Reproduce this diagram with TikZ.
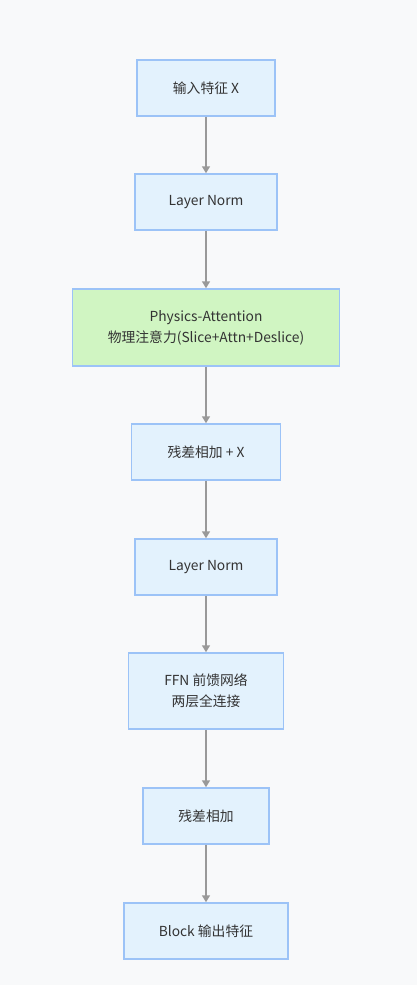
\documentclass[tikz,border=0pt]{standalone}
\usepackage{fontspec}
\setmainfont{Noto Sans CJK SC}
\usepackage{tikz}
\usetikzlibrary{arrows.meta}
\definecolor{bgcol}{HTML}{F8F9FA}
\definecolor{boxfill}{HTML}{E3F2FD}
\definecolor{boxline}{HTML}{9CC3F7}
\definecolor{attnfill}{HTML}{D0F5C2}
\definecolor{arrowcol}{HTML}{999999}
\tikzset{
	stagebox/.style={draw=boxline, line width=1.5pt, fill=boxfill, inner sep=0pt, align=center, font=\fontsize{13.8}{21}\selectfont, text=black!80},
	flowarrow/.style={draw=arrowcol, line width=1.5pt, -{Triangle[length=7pt,width=8pt]}}
}

\begin{document}
\begin{tikzpicture}[x=1pt, y=-1pt]
		%%%%% START %%%%%
		
		\fill[bgcol] (0, 0) rectangle (417, 985);
		\useasboundingbox (0, 0) rectangle (417, 985);
		
		\node[stagebox, minimum width=138pt, minimum height=56pt] (input) at (206, 88) {输入特征 X};
		\node[stagebox, minimum width=142pt, minimum height=56pt] (norm1) at (206, 202) {Layer Norm};
		\node[stagebox, fill=attnfill, minimum width=267pt, minimum height=77pt] (attn) at (206, 327.5) {Physics-Attention\\物理注意力(Slice+Attn+Deslice)};
		\node[stagebox, minimum width=149pt, minimum height=56pt] (res1) at (206, 452) {残差相加 + X};
		\node[stagebox, minimum width=142pt, minimum height=56pt] (norm2) at (206, 567) {Layer Norm};
		\node[stagebox, minimum width=155pt, minimum height=76pt] (ffn) at (206, 691) {FFN 前馈网络\\两层全连接};
		\node[stagebox, minimum width=126pt, minimum height=56pt] (res2) at (206, 816) {残差相加};
		\node[stagebox, minimum width=164pt, minimum height=56pt] (output) at (206, 931) {Block 输出特征};
		
		\draw[flowarrow] (input) -- (norm1);
		\draw[flowarrow] (norm1) -- (attn);
		\draw[flowarrow] (attn) -- (res1);
		\draw[flowarrow] (res1) -- (norm2);
		\draw[flowarrow] (norm2) -- (ffn);
		\draw[flowarrow] (ffn) -- (res2);
		\draw[flowarrow] (res2) -- (output);
		
		%%%%% END %%%%%
	\end{tikzpicture}
\end{document}
